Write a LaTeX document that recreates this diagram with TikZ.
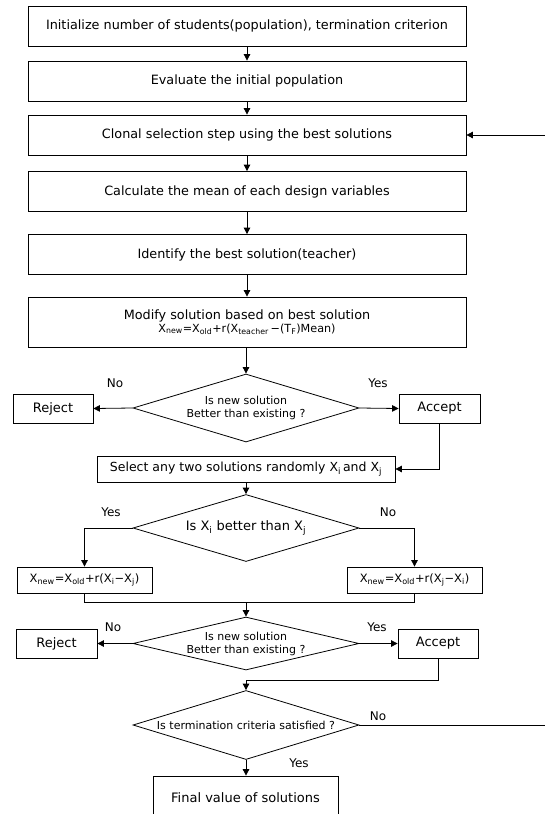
\documentclass[tikz,border=0pt]{standalone}
\usepackage{fontspec}
\setmainfont{DejaVu Sans}
\usetikzlibrary{arrows.meta,shapes.geometric}

\tikzset{
  procbox/.style={draw, line width=0.8pt, minimum width=438pt, minimum height=40pt, inner sep=0pt, font=\fontsize{12.8}{15}\selectfont},
  smallbox/.style={draw, line width=0.8pt, inner sep=0pt, font=\fontsize{13}{15}\selectfont},
  decision/.style={draw, diamond, line width=0.8pt, minimum width=226pt, inner sep=0pt, align=center, font=\fontsize{11}{13}\selectfont},
  answer/.style={font=\fontsize{12}{14}\selectfont},
  flow/.style={line width=0.8pt, -{Triangle[length=6.5pt,width=6.5pt]}},
  line/.style={line width=0.8pt}
}

\begin{document}
\begin{tikzpicture}[x=1pt, y=-1pt]
    % page frame
    \useasboundingbox (0,0) rectangle (544,814);
    % Main column of steps
    \node[procbox] (init) at (247,26) {Initialize number of students(population), termination criterion};
    \node[procbox] (eval) at (247,81) {Evaluate the initial population};
    \node[procbox] (clonal) at (247,135) {Clonal selection step using the best solutions};
    \node[procbox] (mean) at (247,191.5) {Calculate the mean of each design variables};
    \node[procbox] (teacher) at (247,254.5) {Identify the best solution(teacher)};
    \node[procbox, minimum height=50pt, align=center] (modify) at (247,322)
        {Modify solution based on best solution\\[-2pt]
         {\fontsize{11.2}{13}\selectfont X\textsubscript{new}=X\textsubscript{old}+r(X\textsubscript{teacher}\,−(T\textsubscript{F})Mean)}};
    % Teacher phase decision
    \node[decision, aspect=3.32, minimum height=68pt] (better1) at (246,408) {Is new solution\\Better than existing ?};
    \node[smallbox, minimum width=80pt, minimum height=29pt] (reject1) at (53,408.5) {Reject};
    \node[smallbox, minimum width=81pt, minimum height=29pt] (accept1) at (439.5,408.5) {Accept};
    % Learner phase
    \node[smallbox, minimum width=298pt, minimum height=26pt, font=\fontsize{12.5}{15}\selectfont] (select) at (246,469)
        {Select any two solutions randomly X\textsubscript{i}\,and X\textsubscript{j}};
    \node[decision, aspect=3.37, minimum height=67pt, font=\fontsize{13}{15}\selectfont] (compare) at (246,528)
        {Is X\textsubscript{i} better than X\textsubscript{j}};
    \node[smallbox, minimum width=135pt, minimum height=26pt, font=\fontsize{11.5}{13}\selectfont] (leftupd) at (84.5,580)
        {X\textsubscript{new}=X\textsubscript{old}+r(X\textsubscript{i}−X\textsubscript{j})};
    \node[smallbox, minimum width=135pt, minimum height=26pt, font=\fontsize{11.5}{13}\selectfont] (rightupd) at (414.5,580)
        {X\textsubscript{new}=X\textsubscript{old}+r(X\textsubscript{j}−X\textsubscript{i})};
    \coordinate (merge) at (246,602);
    \node[decision, aspect=4.26, minimum height=53pt] (better2) at (246,643.5) {Is new solution\\Better than existing ?};
    \node[smallbox, minimum width=81pt, minimum height=29pt] (reject2) at (56.5,643.5) {Reject};
    \node[smallbox, minimum width=80pt, minimum height=29pt] (accept2) at (438,643.5) {Accept};
    \coordinate (join) at (246,680);
    % Termination check
    \node[decision, aspect=3.28, minimum height=69pt] (stop) at (246,725) {Is termination criteria satisfied ?};
    \node[smallbox, minimum width=185pt, minimum height=44pt] (final) at (245.5,798) {Final value of solutions};
    \coordinate (loop) at (548,725);

    % Arrows down the main column
    \draw[flow] (init) -- (eval);
    \draw[flow] (eval) -- (clonal);
    \draw[flow] (clonal) -- (mean);
    \draw[flow] (mean) -- (teacher);
    \draw[flow] (teacher) -- (modify);
    \draw[flow] (modify.south -| better1.north) -- (better1.north);
    \draw[flow] (better1.west) -- (reject1.east);
    \draw[flow] (better1.east) -- (accept1.west);
    \draw[flow] (accept1.south) |- (select.east);
    \draw[flow] (select.south -| compare.north) -- (compare.north);
    \draw[flow] (compare.west) -| (leftupd.north);
    \draw[flow] (compare.east) -| (rightupd.north);
    \draw[line] (leftupd.south) |- (merge);
    \draw[line] (rightupd.south) |- (merge);
    \draw[flow] (merge) -- (better2.north);
    \draw[flow] (better2.west) -- (reject2.east);
    \draw[flow] (better2.east) -- (accept2.west);
    \draw[line] (accept2.south) |- (join);
    \draw[flow] (join) -- (stop.north);
    \draw[flow] (stop.south) -- (stop.south |- final.north);
    % Loop back to clonal selection
    \draw[flow] (stop.east) -- (loop) |- (clonal.east);

    % Yes / No labels
    \node[answer] (no1) at (115,383) {No};
    \node[answer] (yes1) at (378,383) {Yes};
    \node[answer] (yes2) at (111,512) {Yes};
    \node[answer] (no2) at (388,512) {No};
    \node[answer] (no3) at (113,627) {No};
    \node[answer] (yes3) at (377,627) {Yes};
    \node[answer] (no4) at (378,716) {No};
    \node[answer] (yes4) at (299,763) {Yes};
\end{tikzpicture}
\end{document}
